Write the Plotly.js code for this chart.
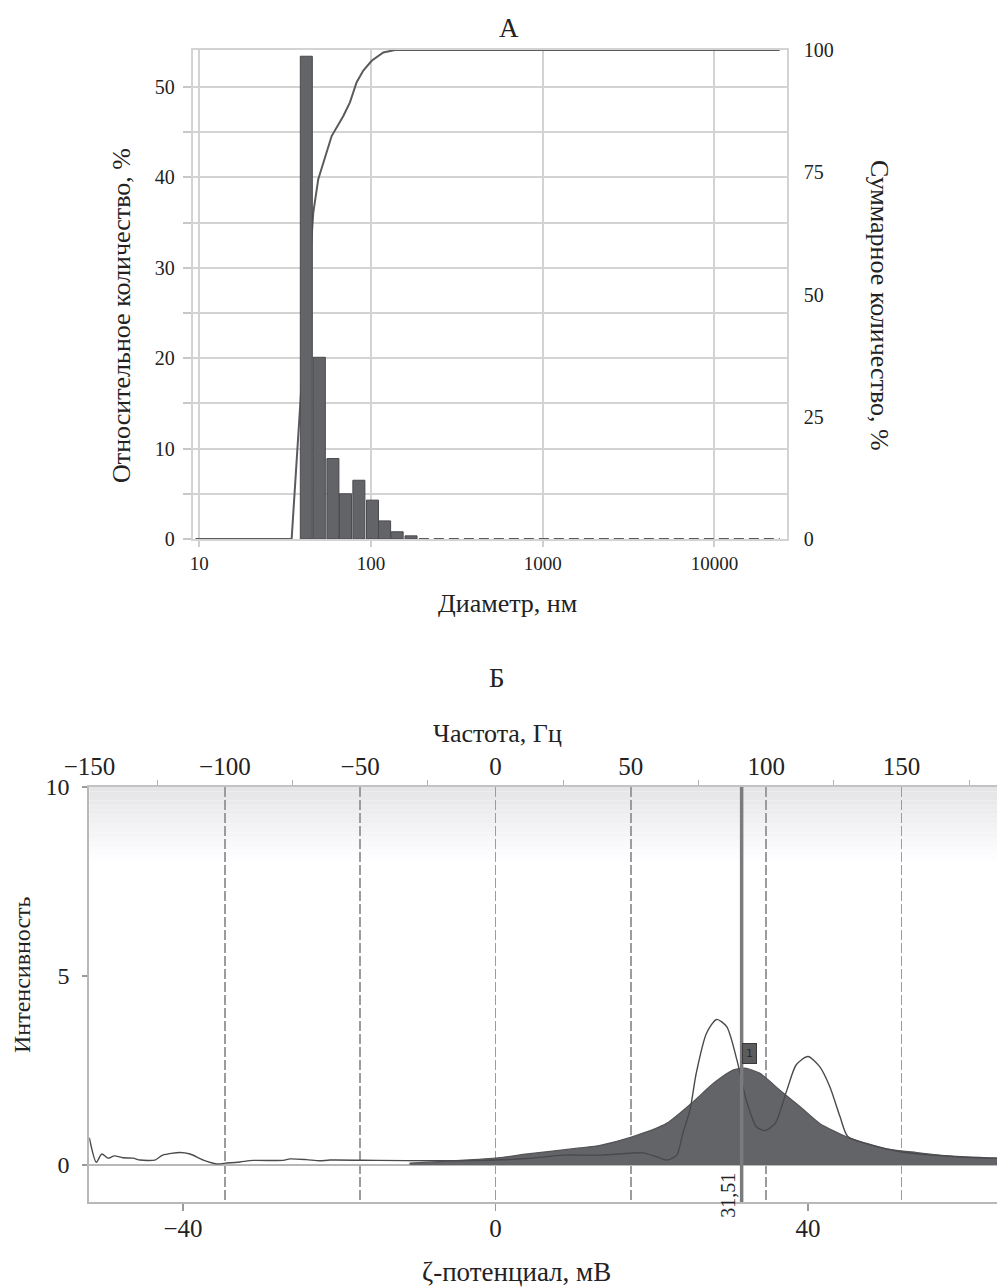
<!DOCTYPE html>
<html>
<head>
<meta charset="utf-8">
<script src="https://cdn.plot.ly/plotly-3.0.1.min.js"></script>
<style>html,body{margin:0;padding:0;background:#fff}#chart{width:997px;height:1288px}</style>
</head>
<body>
<div id="chart"></div>
<script>
// ---------- DATA: panel А (size distribution) ----------
const binDiameterNm = [42, 50, 60, 71, 85, 102, 120, 142, 171];
const relativeCountPct = [53.4, 20.1, 8.9, 5.0, 6.5, 4.3, 2.0, 0.8, 0.35];
const cumDiameterNm = [9.5, 34.5, 39, 45.5, 46.1, 49.3, 54, 59, 69, 75.4, 82.5, 90.2, 100.9, 117.9, 138, 24000];
const cumulativePct = [0, 0, 29.2, 63.3, 66.7, 73.6, 78.3, 82.4, 86.5, 89.3, 93.4, 95.8, 97.8, 99.5, 100, 100];
const emptyBinsNm = [190, 24000];
const diameterTicks = [10, 100, 1000, 10000];
const diameterTickText = ['10', '100', '1000', '10000'];
const relTicks = [0, 5, 10, 15, 20, 25, 30, 35, 40, 45, 50];
const relTickText = ['0', '', '10', '', '20', '', '30', '', '40', '', '50'];
const cumTicks = [0, 25, 50, 75, 100];

// ---------- DATA: panel Б (zeta potential) ----------
const zetaFill_mV = [-11, -6, 0, 4.4, 10.8, 13.4, 17.3, 21.9, 25.3, 27.9, 30.4, 31.9, 33.8, 36.4, 39.0, 41.5, 45.3, 49.6, 53.9, 58.2, 64.2];
const zetaFillI   = [0.05, 0.1, 0.18, 0.3, 0.45, 0.52, 0.73, 1.1, 1.67, 2.16, 2.51, 2.56, 2.43, 1.98, 1.54, 1.10, 0.71, 0.44, 0.33, 0.24, 0.18];
const zetaLine_mV = [-52.0, -51.1, -50.4, -49.6, -48.8, -47.7, -46.4, -45.5, -43.6, -42.6, -40.4, -39.1, -37.4, -35.7, -34.4, -32.7, -31.0, -27.2, -26.3, -24.2, -22.5, -21.2, -15, -8, 0, 4, 8.7, 13.4, 17.2, 18.9, 20.6, 21.9, 23.2, 24.0, 24.9, 25.7, 27.0, 28.3, 29.6, 30.9, 32.1, 33.4, 34.5, 35.8, 37.3, 38.5, 40.0, 41.5, 42.8, 44.1, 45.1, 47.5, 51.8, 56.0, 60.3, 64.2];
const zetaLineI   = [0.72, 0.07, 0.29, 0.18, 0.24, 0.19, 0.18, 0.13, 0.13, 0.26, 0.33, 0.29, 0.13, 0.03, 0.05, 0.08, 0.12, 0.12, 0.16, 0.14, 0.11, 0.13, 0.12, 0.11, 0.13, 0.17, 0.26, 0.26, 0.31, 0.32, 0.22, 0.13, 0.26, 0.85, 1.46, 2.43, 3.48, 3.85, 3.66, 2.78, 1.72, 1.01, 0.91, 1.10, 1.98, 2.65, 2.87, 2.60, 2.07, 1.28, 0.75, 0.57, 0.35, 0.26, 0.20, 0.18];
const zetaPeak_mV = 31.51;
const zetaPeakLabel = '31,51';
const peakNumber = '1';
const mVTicks = [-40, 0, 40];
const intensityTicks = [0, 5, 10];
const hzPerMV = 2.886;
const mVRange = [-52.0, 64.2];

// ---------- layout helpers ----------
const W = 997, H = 1288;
const fx = p => p / W;
const fy = p => 1 - p / H;
const FONT = 'Liberation Serif, Times New Roman, serif';
const TXT = '#222';
const lg = v => Math.log10(v);

const traces = [
  { // cumulative line (under bars)
    type: 'scatter', mode: 'lines', xaxis: 'x', yaxis: 'y',
    x: cumDiameterNm.map(lg), y: cumulativePct,
    line: { color: '#5b5b5e', width: 2 }, hoverinfo: 'skip', showlegend: false
  },
  { // histogram bars
    type: 'bar', xaxis: 'x', yaxis: 'y2',
    x: binDiameterNm.map(lg), y: relativeCountPct, width: 0.07,
    marker: { color: '#636468', line: { color: '#4a4a4d', width: 1 } },
    hoverinfo: 'skip', showlegend: false
  },
  { // empty bins drawn as dashed baseline
    type: 'scatter', mode: 'lines', xaxis: 'x', yaxis: 'y2',
    x: emptyBinsNm.map(lg), y: [0, 0],
    line: { color: '#5b5b5e', width: 2, dash: '10px,5px' }, hoverinfo: 'skip', showlegend: false
  },
  { // zeta distribution (filled)
    type: 'scatter', mode: 'lines', xaxis: 'x2', yaxis: 'y3',
    x: zetaFill_mV, y: zetaFillI, fill: 'tozeroy', fillcolor: '#636467',
    line: { color: '#555558', width: 1.2, shape: 'spline', smoothing: 0.6 },
    hoverinfo: 'skip', showlegend: false
  },
  { // raw intensity curve
    type: 'scatter', mode: 'lines', xaxis: 'x2', yaxis: 'y3',
    x: zetaLine_mV, y: zetaLineI,
    line: { color: '#4a4a4d', width: 1.4, shape: 'spline', smoothing: 0.7 },
    hoverinfo: 'skip', showlegend: false
  },
  { // frequency axis carrier (no visible marks)
    type: 'scatter', mode: 'markers', xaxis: 'x4', yaxis: 'y3',
    x: mVRange.map(v => v * hzPerMV), y: [null, null],
    hoverinfo: 'skip', showlegend: false
  }
];

// gradient band at top of panel Б
const shapes = [];
const nStrips = 16, bandH = 0.175;
for (let i = 0; i < nStrips; i++) {
  const t = i / nStrips;
  const c = Math.round(229 + (255 - 229) * t);
  shapes.push({
    type: 'rect', layer: 'below', xref: 'x2 domain', yref: 'y3 domain',
    x0: 0, x1: 1, y0: 1 - (i + 1) * bandH / nStrips, y1: 1 - i * bandH / nStrips,
    fillcolor: `rgb(${c},${c},${Math.min(255, c + 2)})`, line: { width: 0 }
  });
}
shapes.push({
  type: 'line', layer: 'above', xref: 'x2', yref: 'y3 domain',
  x0: zetaPeak_mV, x1: zetaPeak_mV, y0: 0, y1: 1,
  line: { color: '#7b7b7e', width: 3.5 }
});

const ann = (text, x, y, size, angle, extra) => Object.assign({
  text, x: fx(x), y: fy(y), xref: 'paper', yref: 'paper', showarrow: false,
  xanchor: 'center', yanchor: 'middle', textangle: angle || 0,
  font: { family: FONT, size, color: TXT }
}, extra || {});

const annotations = [
  ann('А', 509, 28, 27),
  ann('Относительное количество, %', 122, 316, 26, -90),
  ann('Суммарное количество, %', 880, 305, 26, 90),
  ann('Диаметр, нм', 508, 603, 26),
  ann('Б', 497, 678, 27),
  ann('Частота, Гц', 497, 733, 26),
  ann('Интенсивность', 22, 975, 24, -90),
  ann('ζ-потенциал, мВ', 516, 1272, 27),
  {
    text: zetaPeakLabel, x: zetaPeak_mV, xref: 'x2', y: fy(1195), yref: 'paper',
    xanchor: 'right', yanchor: 'middle', textangle: -90, showarrow: false, xshift: -1,
    font: { family: FONT, size: 20, color: TXT }
  },
  {
    text: peakNumber, x: zetaPeak_mV, xref: 'x2', y: 2.94, yref: 'y3',
    xanchor: 'left', yanchor: 'middle', showarrow: false, xshift: 0,
    bgcolor: '#5c5c5f', bordercolor: '#3a3a3c', borderwidth: 1, borderpad: 3,
    font: { family: 'DejaVu Sans', size: 11, color: '#2a2a2a' }
  }
];

const layout = {
  width: W, height: H, autosize: false,
  margin: { l: 0, r: 0, t: 0, b: 0 },
  paper_bgcolor: '#fff', plot_bgcolor: 'rgba(0,0,0,0)',
  showlegend: false, bargap: 0,
  font: { family: FONT, color: TXT },
  xaxis: {
    domain: [fx(192.7), fx(786.7)], anchor: 'y',
    range: [0.9616, 4.421],
    tickvals: diameterTicks.map(lg), ticktext: diameterTickText,
    showgrid: true, gridcolor: '#d3d3d3', gridwidth: 2,
    ticks: 'outside', ticklen: 6, tickcolor: '#cfcfcf', tickwidth: 2,
    ticklabelstandoff: 0,
    showline: true, mirror: true, linecolor: '#d3d3d3', linewidth: 2,
    zeroline: false, tickfont: { family: FONT, size: 19, color: TXT }
  },
  yaxis: {
    domain: [fy(539), fy(50)], anchor: 'x', side: 'right',
    range: [0, 100], tickvals: cumTicks,
    showgrid: false, zeroline: false, showline: false, ticks: '',
    ticklabelstandoff: 16, tickfont: { family: FONT, size: 20, color: TXT }
  },
  yaxis2: {
    overlaying: 'y', anchor: 'x', side: 'left',
    range: [0, 54.09], tickvals: relTicks, ticktext: relTickText,
    showgrid: true, gridcolor: '#d3d3d3', gridwidth: 2,
    ticks: 'outside', ticklen: 8, tickcolor: '#c8c8c8', tickwidth: 2,
    ticklabelstandoff: 4,
    showline: true, mirror: true, linecolor: '#d3d3d3', linewidth: 2,
    zeroline: false, tickfont: { family: FONT, size: 20, color: TXT }
  },
  xaxis2: {
    domain: [fx(89.3), 1], anchor: 'y3',
    range: mVRange, tickvals: mVTicks,
    showgrid: false, zeroline: false,
    ticks: 'outside', ticklen: 7, tickcolor: '#9a9a9a', tickwidth: 1.5,
    ticklabelstandoff: -4,
    showline: true, linecolor: '#b8b8b8', linewidth: 2,
    tickfont: { family: FONT, size: 25, color: TXT }
  },
  xaxis4: {
    overlaying: 'x2', anchor: 'y3', side: 'top',
    range: mVRange.map(v => v * hzPerMV), tick0: 0, dtick: 50,
    showgrid: true, gridcolor: '#9c9c9e', gridwidth: 1.5, griddash: '10px,3px',
    ticks: '', ticklabelstandoff: 0,
    minor: { dtick: 25, ticks: 'outside', ticklen: 5, tickcolor: '#b0b0b0', tickwidth: 1, showgrid: false },
    showline: true, linecolor: '#c2c2c4', linewidth: 2, zeroline: false,
    tickfont: { family: FONT, size: 25, color: TXT }
  },
  yaxis3: {
    domain: [fy(1202), fy(787)], anchor: 'x2',
    range: [-0.98, 10], tickvals: intensityTicks,
    showgrid: false, zeroline: true, zerolinecolor: '#b8b8b8', zerolinewidth: 2,
    ticks: 'outside', ticklen: 5, tickcolor: '#9a9a9a', tickwidth: 1.5,
    ticklabelstandoff: 8,
    showline: true, linecolor: '#b8b8b8', linewidth: 2,
    tickfont: { family: FONT, size: 24, color: TXT }
  },
  shapes, annotations
};

Plotly.newPlot('chart', traces, layout, { staticPlot: true, displayModeBar: false });
</script>
</body>
</html>
